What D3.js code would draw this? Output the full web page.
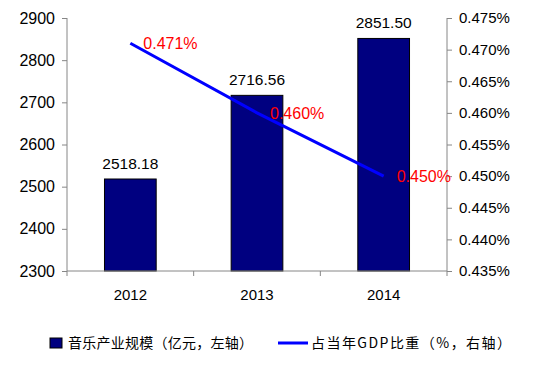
<!DOCTYPE html>
<html>
<head>
<meta charset="utf-8">
<script src="https://cdn.jsdelivr.net/npm/d3@7"></script>
<style>
  body { margin: 0; background: #fff; }
  text { font-family: "Liberation Sans", Arial, sans-serif; }
  .cjk { font-family: "Noto Sans CJK SC", sans-serif; }
</style>
</head>
<body>
<svg id="chart" width="537" height="370"></svg>
<script>
// values
const years = ['2012', '2013', '2014'];
const scale = [2518.18, 2716.56, 2851.50];      // 亿元, left axis
const gdpShare = [0.471, 0.460, 0.450];          // %, right axis
const leftTicks = [2300, 2400, 2500, 2600, 2700, 2800, 2900];
const rightTicks = [0.435, 0.440, 0.445, 0.450, 0.455, 0.460, 0.465, 0.470, 0.475];
const legendNames = ['音乐产业规模（亿元，左轴）', '占当年GDP比重（%，右轴）'];

const svg = d3.select('#chart');
const m = { left: 67, right: 447, top: 18, bottom: 271 };
const axisColor = '#868686';

const x = d3.scaleBand().domain(years).range([m.left, m.right]).paddingInner(0).paddingOuter(0);
const yL = d3.scaleLinear().domain([2300, 2900]).range([m.bottom, m.top]);
const yR = d3.scaleLinear().domain([0.435, 0.475]).range([m.bottom, m.top]);

const barW = x.bandwidth() / 2.45;

// bars
svg.selectAll('rect.bar')
  .data(years)
  .enter()
  .append('rect')
    .attr('class', 'bar')
    .attr('x', d => x(d) + (x.bandwidth() - barW) / 2)
    .attr('y', (d, i) => yL(scale[i]))
    .attr('width', barW)
    .attr('height', (d, i) => m.bottom - yL(scale[i]))
    .attr('fill', '#000080')
    .attr('stroke', '#000')
    .attr('stroke-width', 1);

// bar value labels
svg.selectAll('text.barlab')
  .data(years)
  .enter()
  .append('text')
    .attr('x', d => x(d) + x.bandwidth() / 2)
    .attr('y', (d, i) => yL(scale[i]) - 10)
    .attr('text-anchor', 'middle')
    .attr('font-size', 15.5)
    .attr('fill', '#000')
    .text((d, i) => scale[i].toFixed(2));

// left axis
const gL = svg.append('g')
  .attr('transform', `translate(${m.left},0)`)
  .call(d3.axisLeft(yL).tickValues(leftTicks).tickSize(5).tickPadding(7).tickFormat(d3.format('d')));
gL.select('.domain').attr('stroke', axisColor).attr('d', `M0,${m.top}V${m.bottom}`);
gL.selectAll('.tick line').attr('stroke', axisColor);
gL.selectAll('.tick text').attr('font-size', 16).attr('fill', '#000').style('font-family', '"Liberation Sans", Arial, sans-serif');

// right axis
const gR = svg.append('g')
  .attr('transform', `translate(${m.right},0)`)
  .call(d3.axisRight(yR).tickValues(rightTicks).tickSize(5).tickPadding(7).tickFormat(d => d.toFixed(3) + '%'));
gR.select('.domain').attr('stroke', axisColor).attr('d', `M0,${m.top}V${m.bottom}`);
gR.selectAll('.tick line').attr('stroke', axisColor);
gR.selectAll('.tick text').attr('font-size', 15).attr('fill', '#000').style('font-family', '"Liberation Sans", Arial, sans-serif');

// bottom axis: ticks at category boundaries
svg.append('line')
  .attr('x1', m.left).attr('x2', m.right)
  .attr('y1', m.bottom).attr('y2', m.bottom)
  .attr('stroke', axisColor);
svg.selectAll('line.xtick')
  .data(years.concat(['end']))
  .enter()
  .append('line')
    .attr('x1', (d, i) => m.left + i * x.step())
    .attr('x2', (d, i) => m.left + i * x.step())
    .attr('y1', m.bottom).attr('y2', m.bottom + 5)
    .attr('stroke', axisColor);
svg.selectAll('text.xlab')
  .data(years)
  .enter()
  .append('text')
    .attr('x', d => x(d) + x.bandwidth() / 2)
    .attr('y', m.bottom + 29)
    .attr('text-anchor', 'middle')
    .attr('font-size', 15)
    .text(d => d);

// line
const line = d3.line()
  .x((d, i) => x(years[i]) + x.bandwidth() / 2)
  .y(d => yR(d));
svg.append('path')
  .datum(gdpShare)
  .attr('d', line)
  .attr('fill', 'none')
  .attr('stroke', '#0000ff')
  .attr('stroke-width', 3);

svg.selectAll('text.pct')
  .data(gdpShare)
  .enter()
  .append('text')
    .attr('x', (d, i) => x(years[i]) + x.bandwidth() / 2 + 13)
    .attr('y', d => yR(d) + 6)
    .attr('font-size', 16)
    .attr('fill', '#ff0000')
    .text(d => d.toFixed(3) + '%');

// legend
const lg = svg.append('g');
lg.append('rect')
  .attr('x', 50).attr('y', 338).attr('width', 12).attr('height', 10)
  .attr('fill', '#000080').attr('stroke', '#000');
lg.append('text')
  .attr('class', 'cjk')
  .attr('x', 68).attr('y', 348)
  .attr('font-size', 14)
  .attr('textLength', 185).attr('lengthAdjust', 'spacing')
  .text(legendNames[0]);
lg.append('line')
  .attr('x1', 278).attr('x2', 308).attr('y1', 343).attr('y2', 343)
  .attr('stroke', '#0000ff').attr('stroke-width', 3);
lg.append('text')
  .attr('class', 'cjk')
  .attr('x', 311).attr('y', 348)
  .attr('font-size', 14)
  .attr('textLength', 200).attr('lengthAdjust', 'spacing')
  .text(legendNames[1]);
</script>
</body>
</html>
